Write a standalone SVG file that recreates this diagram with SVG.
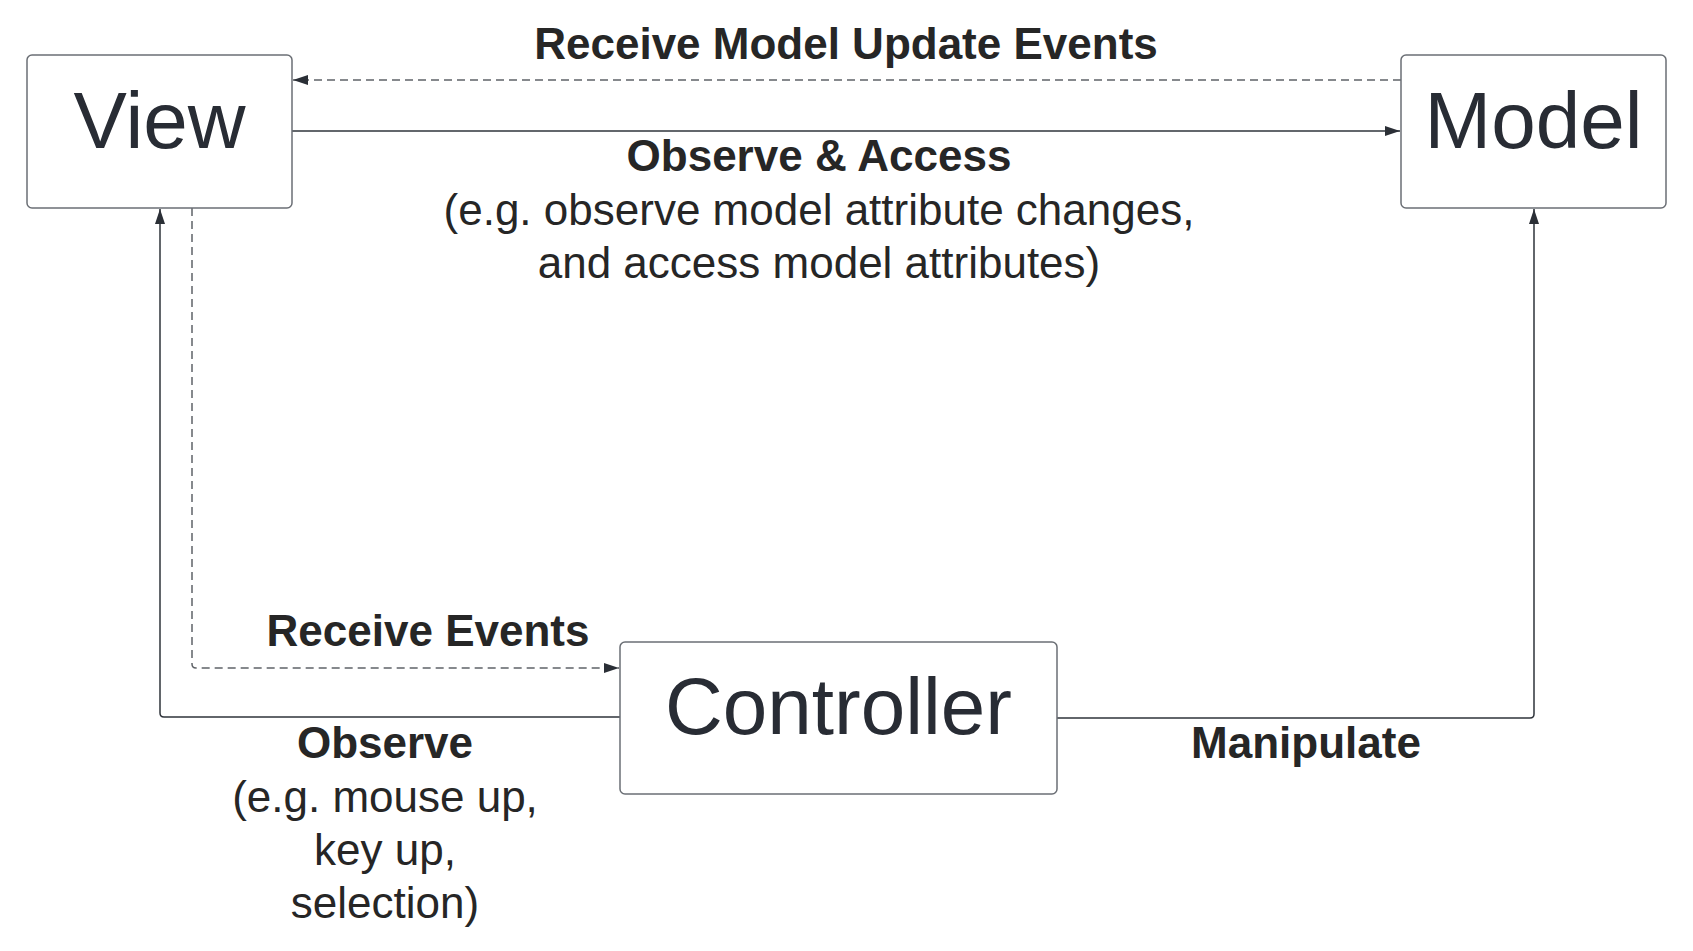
<svg xmlns="http://www.w3.org/2000/svg" width="1693" height="951" viewBox="0 0 1693 951">
<defs>
<style>
.node rect{fill:#ffffff;stroke:#6b6f75;stroke-width:1.5}
.node text{font-family:"Liberation Sans",Arial,sans-serif;font-size:80px;fill:#282c34;text-anchor:middle}
.solid{fill:none;stroke:#2f343b;stroke-width:1.5}
.dash{fill:none;stroke:#5f6368;stroke-width:1.5;stroke-dasharray:8 5}
.lbl{font-family:"Liberation Sans",Arial,sans-serif;font-size:44px;fill:#262626;text-anchor:middle}
.b{font-weight:bold}
</style>
<marker id="arr" markerUnits="userSpaceOnUse" markerWidth="16" markerHeight="12" refX="15" refY="5" orient="auto">
<path d="M0,0 L15,5 L0,10 z" fill="#2b2f36"/>
</marker>
</defs>
<rect width="1693" height="951" fill="#ffffff"/>
<g id="connectors">
<path class="dash" d="M1401,80 H293" marker-end="url(#arr)"/>
<path class="solid" d="M292,131 H1400" marker-end="url(#arr)"/>
<path class="solid" d="M620,717 H164 Q160,717 160,713 V209" marker-end="url(#arr)"/>
<path class="dash" d="M192,208 V664 Q192,668 196,668 H619" marker-end="url(#arr)"/>
<path class="solid" d="M1057,718 H1530 Q1534,718 1534,714 V209" marker-end="url(#arr)"/>
</g>
<g id="labels">
<text class="lbl b" x="846" y="59">Receive Model Update Events</text>
<text class="lbl b" x="819" y="171">Observe &amp; Access</text>
<text class="lbl" x="819" y="225">(e.g. observe model attribute changes,</text>
<text class="lbl" x="819" y="278">and access model attributes)</text>
<text class="lbl b" x="428" y="646">Receive Events</text>
<text class="lbl b" x="385" y="758">Observe</text>
<text class="lbl" x="385" y="812">(e.g. mouse up,</text>
<text class="lbl" x="385" y="865">key up,</text>
<text class="lbl" x="385" y="918">selection)</text>
<text class="lbl b" x="1306" y="758">Manipulate</text>
</g>
<g id="view" class="node">
<rect x="27" y="55" width="265" height="153" rx="5"/>
<text x="159.5" y="148">View</text>
</g>
<g id="model" class="node">
<rect x="1401" y="55" width="265" height="153" rx="5"/>
<text x="1533.5" y="148">Model</text>
</g>
<g id="controller" class="node">
<rect x="620" y="642" width="437" height="152" rx="5"/>
<text x="838.5" y="734">Controller</text>
</g>
</svg>
